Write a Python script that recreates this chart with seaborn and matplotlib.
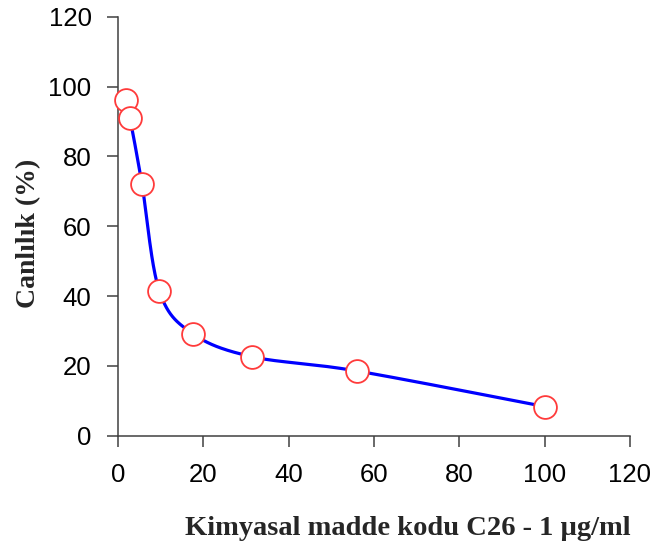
import numpy as np
import pandas as pd
import matplotlib
matplotlib.use("Agg")
import matplotlib.pyplot as plt
import seaborn as sns

# Concentration (µg/ml) and viability (%) readings
concentration = [1.8, 2.8, 5.6, 9.7, 17.5, 31.4, 56.0, 100.0]
viability = [96.1, 91.0, 72.2, 41.4, 29.2, 22.6, 18.5, 8.3]
x_ticks = [0, 20, 40, 60, 80, 100, 120]
y_ticks = [0, 20, 40, 60, 80, 100, 120]

sns.set_style("ticks")
plt.rcParams["font.family"] = ["Liberation Sans", "DejaVu Sans"]

fig = plt.figure(figsize=(6.58, 5.46), dpi=100)
ax = fig.add_axes([118 / 658, 110.5 / 546, 512 / 658, 418.5 / 546])
ax.set_xlim(0, 120)
ax.set_ylim(0, 120)


def smooth_curve(xs, ys, sx, sy, n=60):
    """Bezier smoothing through every point (Catmull-Rom style), in screen-like units."""
    px = np.asarray(xs, float) * sx
    py = np.asarray(ys, float) * sy
    pts = np.column_stack([px, py])
    ext = np.vstack([pts[0], pts, pts[-1]])
    out = []
    t = np.linspace(0, 1, n)[:, None]
    for i in range(len(pts) - 1):
        p0, p1, p2, p3 = ext[i], ext[i + 1], ext[i + 2], ext[i + 3]
        c1 = p1 + (p2 - p0) / 6.0
        c2 = p2 - (p3 - p1) / 6.0
        seg = ((1 - t) ** 3) * p1 + 3 * ((1 - t) ** 2) * t * c1 + 3 * (1 - t) * t ** 2 * c2 + t ** 3 * p2
        out.append(seg if i == 0 else seg[1:])
    curve = np.vstack(out)
    return curve[:, 0] / sx, curve[:, 1] / sy


cx, cy = smooth_curve(concentration, viability, 512 / 120, 418.5 / 120)
curve_df = pd.DataFrame({"x": cx, "y": cy})
points_df = pd.DataFrame({"x": concentration, "y": viability})

sns.lineplot(data=curve_df, x="x", y="y", sort=False, color="#0000ff",
             linewidth=2.3, ax=ax, zorder=2)
sns.scatterplot(data=points_df, x="x", y="y", s=270, marker="o",
                facecolor="white", edgecolor="#ff3b3b", linewidth=1.3,
                ax=ax, zorder=3, clip_on=False)

ax.set_xticks(x_ticks)
ax.set_yticks(y_ticks)
ax.tick_params(axis="both", direction="out", length=8, width=1.1,
               color="#404040", labelsize=18.5, labelcolor="black")
ax.tick_params(axis="x", pad=12)
ax.tick_params(axis="y", pad=11)
for side in ("left", "bottom"):
    ax.spines[side].set_color("#404040")
    ax.spines[side].set_linewidth(1.1)
sns.despine(ax=ax)

ax.set_xlabel("Kimyasal madde kodu C26 - 1 µg/ml", fontfamily="Liberation Serif",
              fontweight="bold", fontsize=20.5)
ax.set_ylabel("Canlılık (%)", fontfamily="Liberation Serif",
              fontweight="bold", fontsize=20)
ax.xaxis.set_label_coords(0.567, -0.193)
ax.yaxis.set_label_coords(-0.15, 0.484)

fig.savefig("out.png", dpi=100)
